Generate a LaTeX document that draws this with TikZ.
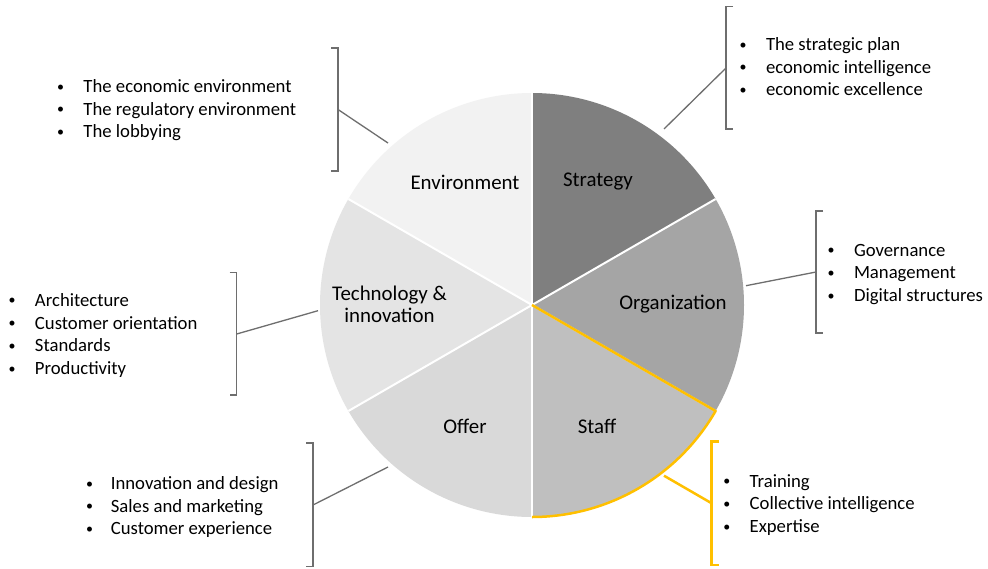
\documentclass[tikz,border=0pt]{standalone}
\usepackage{fontspec}
\setmainfont{Carlito}
\definecolor{stratfill}{HTML}{7F7F7F}
\definecolor{orgfill}{HTML}{A5A5A5}
\definecolor{stafffill}{HTML}{BFBFBF}
\definecolor{offerfill}{HTML}{D9D9D9}
\definecolor{techfill}{HTML}{E4E4E4}
\definecolor{envfill}{HTML}{F2F2F2}
\definecolor{brgray}{HTML}{6E6E6E}
\definecolor{accent}{HTML}{FFC000}
% small list bullet in a fixed-width box
\newcommand{\bul}[1][27.5pt]{\makebox[#1][l]{\hspace{1.2pt}\raisebox{1.4pt}{\fontsize{14}{14}\selectfont\textbullet}}}
\begin{document}
\begin{tikzpicture}[x=1pt,y=-1pt,
  bracket/.style={draw=brgray, line width=1.3pt},
  hibracket/.style={draw=accent, line width=2.5pt},
  link/.style={draw=brgray, line width=1.3pt},
  hilink/.style={draw=accent, line width=2.5pt},
  list/.style={anchor=west, inner sep=0pt, align=left, font=\fontsize{18.7}{22.7}\selectfont},
  seclabel/.style={inner sep=0pt, align=center, font=\fontsize{20.9}{22.5}\selectfont}]
\useasboundingbox (0,0) rectangle (988,568);
\fill[white] (0,0) rectangle (988,568);

% the six-sector wheel
\begin{scope}[shift={(532,305)}]
  \fill[stratfill] (0,0) -- (90:212pt) arc[start angle=90,end angle=30,radius=212pt] -- cycle;
  \fill[orgfill] (0,0) -- (30:212pt) arc[start angle=30,end angle=-30,radius=212pt] -- cycle;
  \fill[stafffill] (0,0) -- (-30:212pt) arc[start angle=-30,end angle=-90,radius=212pt] -- cycle;
  \fill[offerfill] (0,0) -- (-90:212pt) arc[start angle=-90,end angle=-150,radius=212pt] -- cycle;
  \fill[techfill] (0,0) -- (-150:212pt) arc[start angle=-150,end angle=-210,radius=212pt] -- cycle;
  \fill[envfill] (0,0) -- (150:212pt) arc[start angle=150,end angle=90,radius=212pt] -- cycle;
  \foreach \a in {90,30,-30,-90,-150,150}
    \draw[white, line width=2pt] (0,0) -- (\a:212pt);
  \draw[accent, line width=2.5pt, line join=round]
    (0,0) -- (-30:212pt) arc[start angle=-30,end angle=-90,radius=212pt];
\end{scope}

% sector labels
\node[seclabel] (lenv) at (465,182.5) {Environment};
\node[seclabel] (lstrat) at (598,182) {Strategy};
\node[seclabel] (lorg) at (673,304) {Organization};
\node[seclabel] (ltech) at (389.5,304.5) {Technology \&\\innovation};
\node[seclabel] (loffer) at (465,426) {Offer};
\node[seclabel] (lstaff) at (597,426) {Staff};

% anchor points on the wheel
\coordinate (envTip) at (388,143);
\coordinate (stratTip) at (664,129);
\coordinate (orgTip) at (746,285.7);
\coordinate (techTip) at (318,310.7);
\coordinate (offerTip) at (388,467);
\coordinate (staffTip) at (664,475.7);

% brackets and their midpoints
\draw[bracket] (331,48) -- (338,48) -- (338,171) -- (331,171);
\coordinate (envMid) at (338,109.5);
\draw[bracket] (733,6.7) -- (726,6.7) -- (726,129) -- (733,129);
\coordinate (stratMid) at (726,68);
\draw[bracket] (823,211) -- (816,211) -- (816,333) -- (823,333);
\coordinate (orgMid) at (816,272);
\draw[bracket] (229.7,272.7) -- (236.7,272.7) -- (236.7,395) -- (229.7,395);
\coordinate (techMid) at (236.7,334);
\draw[bracket] (306,443) -- (313,443) -- (313,566.7) -- (306,566.7);
\coordinate (offerMid) at (313,505);
\draw[hibracket] (719,441.7) -- (711.7,441.7) -- (711.7,565) -- (719,565);
\coordinate (staffMid) at (711.7,503.3);

% connectors
\draw[link] (envMid) -- (envTip);
\draw[link] (stratMid) -- (stratTip);
\draw[link] (orgMid) -- (orgTip);
\draw[link] (techMid) -- (techTip);
\draw[link] (offerMid) -- (offerTip);
\draw[hilink] (staffMid) -- (staffTip);

% item lists
\node[list] (tenv) at (55.8,110.3) {\bul The economic environment\\\bul The regulatory environment\\\bul The lobbying};
\node[list] (tstrat) at (738.3,66.8) {\bul The strategic plan\\\bul economic intelligence\\\bul economic excellence};
\node[list] (torg) at (826.3,274.3) {\bul Governance\\\bul Management\\\bul Digital structures};
\node[list] (ttech) at (7.3,335.4) {\bul Architecture\\\bul Customer orientation\\\bul Standards\\\bul Productivity};
\node[list] (toffer) at (84.6,507.2) {\bul[26.1pt]Innovation and design\\\bul[26.1pt]Sales and marketing\\\bul[26.1pt]Customer experience};
\node[list] (tstaff) at (722,504.8) {\bul Training\\\bul Collective intelligence\\\bul Expertise};
\end{tikzpicture}
\end{document}
